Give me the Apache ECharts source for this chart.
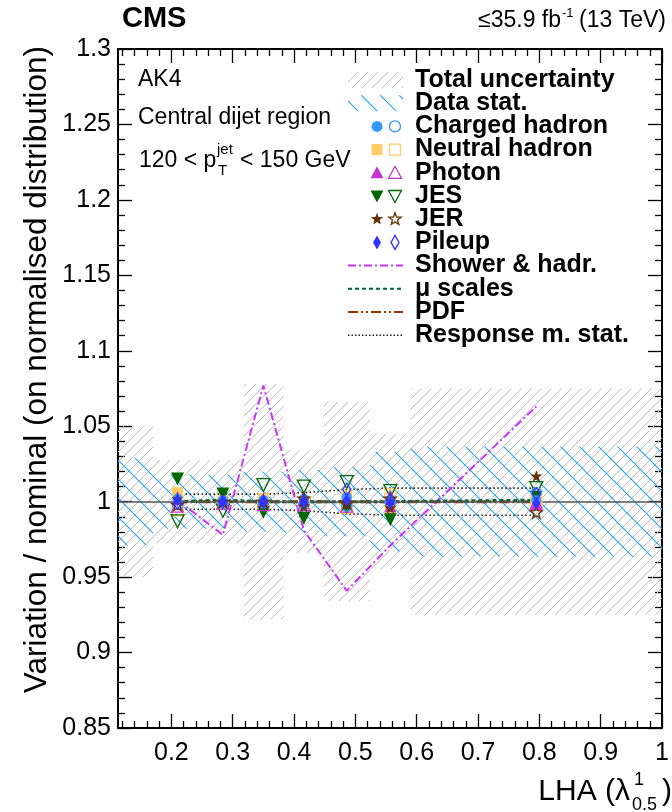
<!DOCTYPE html>
<html><head><meta charset="utf-8">
<script src="https://cdn.jsdelivr.net/npm/echarts@6/dist/echarts.min.js"></script>
<style>html,body{margin:0;padding:0;background:#fff}#c{width:672px;height:812px}</style>
</head><body><div id="c"></div>
<script>
// ---------------- data ----------------
const xPoints = [0.21, 0.284, 0.35, 0.416, 0.486, 0.557, 0.795];
const binLow  = [0.113, 0.17, 0.25, 0.318, 0.383, 0.448, 0.524, 0.59];
const binHigh = [0.17, 0.25, 0.318, 0.383, 0.448, 0.524, 0.59, 1.0];
const totalUnc = [0.05, 0.0275, 0.0275, 0.078, 0.034, 0.066, 0.045, 0.075];
const dataStat = [0.029, 0.018, 0.018, 0.02, 0.021, 0.023, 0.033, 0.0365];

const chargedUp   = [1.002, 1.001, 1.001, 1.002, 1.003, 1.001, 1.001];
const chargedDown = [0.998, 0.999, 0.999, 0.998, 0.997, 0.999, 1.006];
const neutralUp   = [1.006, 1.001, 1.002, 1.000, 1.004, 0.994, 1.000];
const neutralDown = [0.994, 0.999, 0.998, 0.999, 0.996, 1.005, 1.001];
const photonUp    = [1.003, 1.001, 1.002, 1.002, 1.003, 0.997, 0.998];
const photonDown  = [0.997, 0.999, 0.998, 0.998, 0.997, 1.003, 0.999];
const jesUp       = [1.015, 1.005, 0.993, 0.989, 0.996, 0.988, 1.003];
const jesDown     = [0.987, 0.994, 1.011, 1.010, 1.013, 1.007, 1.009];
const jerUp       = [1.002, 1.000, 1.000, 0.997, 1.000, 0.996, 1.017];
const jerDown     = [0.998, 1.000, 1.000, 1.002, 0.999, 1.002, 0.993];
const pileupUp    = [1.001, 1.000, 1.000, 1.000, 1.001, 0.999, 0.999];
const pileupDown  = [0.999, 1.000, 1.000, 1.000, 1.008, 1.001, 1.005];

const showerHadr  = [1.001, 0.978, 1.077, 0.981, 0.941, 0.971, 1.063];
const muScales    = [1.000, 1.001, 1.000, 1.000, 1.000, 1.000, 1.001];
const pdfVar      = [1.000, 1.000, 1.000, 1.000, 1.000, 1.000, 1.000];
const respStatUp  = [1.005, 1.005, 1.005, 1.006, 1.008, 1.009, 1.009];
const respStatDown= [0.995, 0.995, 0.995, 0.994, 0.992, 0.991, 0.991];

const xMajorTicks = [0.2, 0.3, 0.4, 0.5, 0.6, 0.7, 0.8, 0.9, 1.0];
const xMinorTicks = [0.12,0.14,0.16,0.18,0.22,0.24,0.26,0.28,0.32,0.34,0.36,0.38,
  0.42,0.44,0.46,0.48,0.52,0.54,0.56,0.58,0.62,0.64,0.66,0.68,0.72,0.74,0.76,0.78,
  0.82,0.84,0.86,0.88,0.92,0.94,0.96,0.98];

// ---------------- styles ----------------
const FONT = '"Liberation Sans", Arial, Helvetica, sans-serif';
const C = {
  charged: '#3399ff', neutral: '#ffcc66', photon: '#cc33cc', jes: '#006600',
  jer: '#663300', pileup: '#3333ff', shower: '#cc33ff', mu: '#006633', pdf: '#993300',
  gray: '#bdbdbd', blue: '#22a3f0'
};
function hatch(size, color, dir, lw) {
  const c = document.createElement('canvas');
  c.width = size; c.height = size;
  const g = c.getContext('2d');
  g.strokeStyle = color; g.lineWidth = lw;
  g.beginPath();
  for (const k of [-size, 0, size]) {
    if (dir === '/') { g.moveTo(k, size); g.lineTo(k + size, 0); }
    else { g.moveTo(k, 0); g.lineTo(k + size, size); }
  }
  g.stroke();
  return c;
}
const grayPat = { image: hatch(10, C.gray, '/', 1.0), repeat: 'repeat' };
const bluePat = { image: hatch(19, C.blue, '\\', 1.1), repeat: 'repeat' };

const STAR = 'path://M0,-10 L2.35,-3.24 L9.51,-3.09 L3.8,1.24 L5.88,8.09 L0,4 L-5.88,8.09 L-3.8,1.24 L-9.51,-3.09 L-2.35,-3.24 Z';

function zip(xs, ys) { return xs.map((x, i) => [x, ys[i]]); }

function bandSeries(name, errs, pat, z) {
  return {
    type: 'custom', name, z, silent: true,
    data: binLow.map((lo, i) => [lo, binHigh[i], 1 + errs[i], 1 - errs[i]]),
    encode: { x: [0, 1], y: [2, 3] },
    renderItem(params, api) {
      const p1 = api.coord([api.value(0), api.value(2)]);
      const p2 = api.coord([api.value(1), api.value(3)]);
      const cs = params.coordSys;
      const shape = echarts.graphic.clipRectByRect(
        { x: p1[0], y: p1[1], width: p2[0] - p1[0], height: p2[1] - p1[1] },
        { x: cs.x, y: cs.y, width: cs.width, height: cs.height });
      return shape && { type: 'rect', shape, style: { fill: pat } };
    }
  };
}
function lineSeries(name, vals, color, width, dash, z) {
  return {
    type: 'line', name, data: zip(xPoints, vals), showSymbol: false, symbol: 'none',
    z, silent: true, animation: false,
    lineStyle: { color, width, type: dash }
  };
}
function scatterSeries(name, vals, symbol, size, color, filled, rotate) {
  return {
    type: 'scatter', name, data: zip(xPoints, vals), symbol, symbolSize: size,
    symbolRotate: rotate || 0, z: 5, silent: true, animation: false,
    itemStyle: filled ? { color, borderWidth: 0, opacity: 1 }
                      : { color: 'rgba(0,0,0,0)', borderColor: color, borderWidth: 1.3, opacity: 1 }
  };
}

const series = [
  bandSeries('Total uncertainty', totalUnc, grayPat, 1),
  bandSeries('Data stat.', dataStat, bluePat, 2),
  Object.assign(lineSeries('Response m. stat. up', respStatUp, '#222', 1.6, [1.5, 2.5], 3), {
    markLine: { silent: true, symbol: 'none', label: { show: false },
      lineStyle: { color: '#555', width: 1.6, type: 'solid' }, data: [{ yAxis: 1 }] }
  }),
  lineSeries('Response m. stat. down', respStatDown, '#222', 1.6, [1.5, 2.5], 3),
  lineSeries('Shower & hadr.', showerHadr, C.shower, 2, [8, 3, 2, 3], 3),
  lineSeries('PDF', pdfVar, C.pdf, 3, [10, 3, 2, 3, 2, 3], 3),
  lineSeries('μ scales', muScales, C.mu, 3, [4, 3], 3),
  scatterSeries('Neutral hadron up', neutralUp, 'rect', 11, C.neutral, true),
  scatterSeries('Neutral hadron down', neutralDown, 'rect', 11, C.neutral, false),
  scatterSeries('JES up', jesUp, 'triangle', 13, C.jes, true, 180),
  scatterSeries('JES down', jesDown, 'triangle', 13, C.jes, false, 180),
  scatterSeries('Photon up', photonUp, 'triangle', 12, C.photon, true),
  scatterSeries('Photon down', photonDown, 'triangle', 12, C.photon, false),
  scatterSeries('Charged hadron up', chargedUp, 'circle', 10, C.charged, true),
  scatterSeries('Charged hadron down', chargedDown, 'circle', 10, C.charged, false),
  scatterSeries('JER up', jerUp, STAR, 12, C.jer, true),
  scatterSeries('JER down', jerDown, STAR, 12, C.jer, false),
  scatterSeries('Pileup up', pileupUp, 'diamond', [8, 13], C.pileup, true),
  scatterSeries('Pileup down', pileupDown, 'diamond', [8, 13], C.pileup, false)
];

// ---------------- legend (graphic) ----------------
const legendItems = [
  { name: 'Total uncertainty', kind: 'hatch', pat: grayPat },
  { name: 'Data stat.', kind: 'hatch', pat: bluePat },
  { name: 'Charged hadron', kind: 'marker', sym: 'circle', color: C.charged },
  { name: 'Neutral hadron', kind: 'marker', sym: 'rect', color: C.neutral },
  { name: 'Photon', kind: 'marker', sym: 'tri', color: C.photon },
  { name: 'JES', kind: 'marker', sym: 'triDown', color: C.jes },
  { name: 'JER', kind: 'marker', sym: 'star', color: C.jer },
  { name: 'Pileup', kind: 'marker', sym: 'diamond', color: C.pileup },
  { name: 'Shower & hadr.', kind: 'line', color: C.shower, dash: [8, 3, 2, 3], w: 2 },
  { name: 'μ scales', kind: 'line', color: C.mu, dash: [4, 3], w: 2 },
  { name: 'PDF', kind: 'line', color: C.pdf, dash: [10, 3, 2, 3, 2, 3], w: 2 },
  { name: 'Response m. stat.', kind: 'line', color: '#222', dash: [1.5, 2], w: 1.5 }
];
function markerEl(sym, cx, cy, color, filled) {
  const style = filled ? { fill: color } : { fill: 'none', stroke: color, lineWidth: 1.3 };
  if (sym === 'circle') return { type: 'circle', shape: { cx, cy, r: 5.5 }, style };
  if (sym === 'rect') return { type: 'rect', shape: { x: cx - 5.5, y: cy - 5.5, width: 11, height: 11 }, style };
  let pts;
  if (sym === 'tri') pts = [[cx, cy - 6.5], [cx + 6.5, cy + 5.5], [cx - 6.5, cy + 5.5]];
  else if (sym === 'triDown') pts = [[cx - 6.5, cy - 5.5], [cx + 6.5, cy - 5.5], [cx, cy + 6.5]];
  else if (sym === 'diamond') pts = [[cx, cy - 7], [cx + 4, cy], [cx, cy + 7], [cx - 4, cy]];
  else {
    pts = [];
    for (let k = 0; k < 10; k++) {
      const r = k % 2 === 0 ? 6.5 : 2.7, a = -Math.PI / 2 + k * Math.PI / 5;
      pts.push([cx + r * Math.cos(a), cy + r * Math.sin(a)]);
    }
  }
  return { type: 'polygon', shape: { points: pts }, style };
}
const graphics = [];
const LX0 = 348, LX1 = 403, LTX = 415, LY0 = 80, LDY = 23.2;
legendItems.forEach((it, i) => {
  const cy = LY0 + i * LDY;
  if (it.kind === 'hatch') {
    graphics.push({ type: 'rect', shape: { x: LX0, y: cy - 8, width: LX1 - LX0, height: 16 }, style: { fill: it.pat } });
  } else if (it.kind === 'marker') {
    graphics.push(markerEl(it.sym, 377, cy, it.color, true));
    graphics.push(markerEl(it.sym, 395, cy, it.color, false));
  } else {
    graphics.push({ type: 'line', shape: { x1: LX0, y1: cy, x2: LX1, y2: cy },
      style: { stroke: it.color, lineWidth: it.w, lineDash: it.dash } });
  }
  graphics.push({ type: 'text', x: LTX, y: cy, style: { text: it.name, font: 'bold 25px ' + FONT,
    fill: '#000', verticalAlign: 'middle', align: 'left' } });
});
function txt(text, x, y, size, opts) {
  return Object.assign({ type: 'text', x, y, style: Object.assign({ text, font: (opts && opts.bold ? 'bold ' : '') + size + 'px ' + FONT,
    fill: '#000', verticalAlign: 'middle', align: 'left' }, opts && opts.style) }, opts && opts.el);
}
graphics.push(
  txt('CMS', 122, 19, 29, { bold: true }),
  txt('≤35.9 fb', 561, 21, 23, { style: { align: 'right' } }),
  txt('-1', 562, 13, 13),
  txt('(13 TeV)', 666, 21, 23, { style: { align: 'right' } }),
  txt('AK4', 138, 80, 23),
  txt('Central dijet region', 138, 118, 23),
  txt('120 < p', 139, 161, 23),
  txt('jet', 217, 150, 15),
  txt('T', 218, 171, 15),
  txt('< 150 GeV', 240, 161, 23),
  txt('Variation / nominal (on normalised distribution)', 37, 46, 31.5,
      { style: { align: 'right' }, el: { rotation: Math.PI / 2 } }),
  txt('LHA (λ', 630, 792, 30, { style: { align: 'right' } }),
  txt('1', 634, 780, 18),
  txt('0.5', 632, 805, 18),
  txt(')', 662, 792, 30)
);

// ---------------- axes ----------------
const X_MIN = 0.113, X_MAX = 1.0;
function xAx(position, values, len, labels) {
  return {
    type: 'value', min: X_MIN, max: X_MAX, position, gridIndex: 0,
    axisLine: { show: labels, onZero: false, lineStyle: { color: '#000', width: 2 } },
    axisTick: { show: true, inside: true, length: len, customValues: values, lineStyle: { color: '#000', width: 1.3 } },
    axisLabel: labels ? { show: true, customValues: values, margin: 13, fontSize: 25, fontFamily: FONT, color: '#000',
      formatter: v => String(+v.toFixed(2)) } : { show: false },
    splitLine: { show: false }
  };
}
function yAx(position, labels) {
  return {
    type: 'value', min: 0.85, max: 1.3, interval: 0.05, position,
    axisLine: { show: true, onZero: false, lineStyle: { color: '#000', width: 2 } },
    axisTick: { show: true, inside: true, length: 14, lineStyle: { color: '#000', width: 1.3 } },
    minorTick: { show: true, splitNumber: 5, length: 7, lineStyle: { color: '#000', width: 1.3 } },
    axisLabel: labels ? { show: true, margin: 7, fontSize: 25, fontFamily: FONT, color: '#000',
      formatter: v => String(+v.toFixed(2)) } : { show: false },
    splitLine: { show: false }, minorSplitLine: { show: false }
  };
}

const chart = echarts.init(document.getElementById('c'), null, { renderer: 'canvas' });
chart.setOption({
  animation: false,
  backgroundColor: '#fff',
  textStyle: { fontFamily: FONT },
  grid: { left: 118, right: 6, top: 49, bottom: 84 },
  xAxis: [
    xAx('bottom', xMajorTicks, 14, true),
    xAx('bottom', xMinorTicks, 7, false),
    Object.assign(xAx('top', xMajorTicks, 14, false), { axisLine: { show: true, onZero: false, lineStyle: { color: '#000', width: 2 } } }),
    xAx('top', xMinorTicks, 7, false)
  ],
  yAxis: [yAx('left', true), yAx('right', false)],
  series,
  graphic: graphics
});
</script></body></html>
